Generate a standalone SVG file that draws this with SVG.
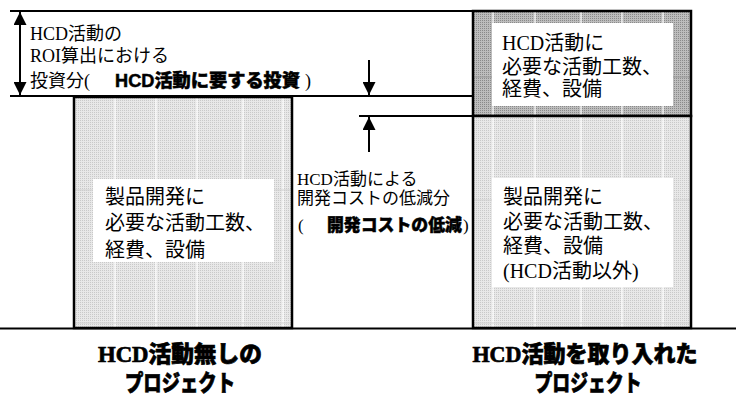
<svg xmlns="http://www.w3.org/2000/svg" width="736" height="396" viewBox="0 0 736 396">
<style>
.t{font-family:"Liberation Serif","Noto Sans CJK JP",serif;font-size:18px;fill:#000}
.m{font-size:17px}
.bx{font-size:20px}
.b{font-family:"Liberation Sans","Noto Sans CJK JP",sans-serif;font-weight:900;stroke:#000;stroke-width:0.5}
.lbl{font-family:"Liberation Serif","Noto Sans CJK JP",serif;font-weight:900;font-size:23px;fill:#000;stroke:#000;stroke-width:0.7}
.edge{stroke:#000;stroke-width:2;fill:none}
.grid{stroke:#fff;stroke-width:1.2}
.hgrid{stroke:#d0d0d0;stroke-width:1}
.tb{fill:#fff}
.frame{fill:none;stroke:#000;stroke-width:2.5}
</style>
<defs>
<pattern id="light" width="2" height="2" patternUnits="userSpaceOnUse">
<rect width="2" height="2" fill="#e8e8e8"/>
<rect width="1" height="1" fill="#c9c9c9"/>
</pattern>
<pattern id="dark" width="2" height="2" patternUnits="userSpaceOnUse">
<rect width="2" height="2" fill="#bdbdbd"/>
<rect width="1" height="1" fill="#8a8a8a"/>
</pattern>
<marker id="ah" viewBox="0 0 13 13" refX="13" refY="6.5" markerWidth="13" markerHeight="13" markerUnits="userSpaceOnUse" orient="auto-start-reverse">
<path d="M0,0 L13,6.5 L0,13 z" fill="#000"/>
</marker>
</defs>
<rect width="736" height="396" fill="#fff"/>

<g id="left-box">
<rect x="74" y="97" width="218" height="231" fill="url(#light)"/>
<g class="grid"><line x1="115" y1="98" x2="115" y2="327"/><line x1="156" y1="98" x2="156" y2="327"/><line x1="197" y1="98" x2="197" y2="327"/><line x1="243" y1="98" x2="243" y2="327"/><line x1="283" y1="98" x2="283" y2="327"/></g>
<g class="hgrid"><line x1="75" y1="190" x2="291" y2="190"/><line x1="75" y1="323" x2="291" y2="323"/></g>
<rect class="frame" x="74" y="97" width="218" height="231"/>
<rect class="tb" x="93" y="179" width="181" height="83"/>
<text class="t bx" x="105" y="204">製品開発に</text>
<text class="t bx" x="105" y="230">必要な活動工数、</text>
<text class="t bx" x="105" y="257">経費、設備</text>
</g>

<g id="right-box-hcd">
<rect x="473" y="11" width="218" height="105" fill="url(#dark)"/>
<g class="grid"><line x1="493" y1="12" x2="493" y2="115"/><line x1="535" y1="12" x2="535" y2="115"/><line x1="581" y1="12" x2="581" y2="115"/><line x1="622" y1="12" x2="622" y2="115"/><line x1="663" y1="12" x2="663" y2="115"/></g>
<line x1="474" y1="77" x2="690" y2="77" stroke="#9a9a9a" stroke-width="1"/>
<rect class="frame" x="473" y="11" width="218" height="105"/>
<rect class="tb" x="492" y="23" width="181" height="83"/>
<text class="t bx" x="502" y="50">HCD活動に</text>
<text class="t bx" x="502" y="74">必要な活動工数、</text>
<text class="t bx" x="502" y="96">経費、設備</text>
</g>

<g id="right-box-other">
<rect x="473" y="116" width="218" height="212" fill="url(#light)"/>
<g class="grid"><line x1="493" y1="117" x2="493" y2="327"/><line x1="535" y1="117" x2="535" y2="327"/><line x1="581" y1="117" x2="581" y2="327"/><line x1="622" y1="117" x2="622" y2="327"/><line x1="663" y1="117" x2="663" y2="327"/></g>
<g class="hgrid"><line x1="474" y1="200" x2="690" y2="200"/><line x1="474" y1="323" x2="690" y2="323"/></g>
<rect class="frame" x="473" y="116" width="218" height="212"/>
<rect class="tb" x="492" y="178" width="181" height="109"/>
<text class="t bx" x="503" y="204">製品開発に</text>
<text class="t bx" x="503" y="229">必要な活動工数、</text>
<text class="t bx" x="503" y="253">経費、設備</text>
<text class="t bx" x="503" y="278">(HCD活動以外)</text>
</g>

<g id="investment-label">
<text class="t" x="30" y="40">HCD活動の</text>
<text class="t" x="30" y="62">ROI算出における</text>
<text class="t" x="30" y="87">投資分(</text>
<text class="t b" x="115" y="87" textLength="185" lengthAdjust="spacingAndGlyphs">HCD活動に要する投資</text>
<text class="t" x="305" y="87">)</text>
</g>

<g id="reduction-label">
<text class="t m" x="297" y="185">HCD活動による</text>
<text class="t m" x="297" y="204">開発コストの低減分</text>
<text class="t m" x="298" y="231">(</text>
<text class="t m b" x="327" y="231" textLength="135" lengthAdjust="spacingAndGlyphs">開発コストの低減</text>
<text class="t m" x="463" y="231">)</text>
</g>

<g id="label-without">
<text class="lbl" x="180" y="362" text-anchor="middle" textLength="164" lengthAdjust="spacingAndGlyphs">HCD活動無しの</text>
<text class="lbl" x="180" y="391" text-anchor="middle" textLength="110" lengthAdjust="spacingAndGlyphs">プロジェクト</text>
</g>

<g id="label-with">
<text class="lbl" x="585" y="362" text-anchor="middle" textLength="225" lengthAdjust="spacingAndGlyphs">HCD活動を取り入れた</text>
<text class="lbl" x="588" y="391" text-anchor="middle" textLength="107" lengthAdjust="spacingAndGlyphs">プロジェクト</text>
</g>

<g id="connectors">
<line class="edge" x1="10" y1="11" x2="473" y2="11" stroke-width="1.5"/>
<line class="edge" x1="10" y1="96" x2="473" y2="96" stroke-width="1.5"/>
<line class="edge" x1="359" y1="116" x2="473" y2="116" stroke-width="1.5"/>
<line class="edge" x1="0" y1="328.5" x2="736" y2="328.5" stroke-width="3"/>
<line class="edge" x1="20" y1="12" x2="20" y2="95" marker-start="url(#ah)" marker-end="url(#ah)"/>
<line class="edge" x1="369" y1="60" x2="369" y2="95" marker-end="url(#ah)"/>
<line class="edge" x1="369" y1="152" x2="369" y2="117" marker-end="url(#ah)"/>
</g>
</svg>
